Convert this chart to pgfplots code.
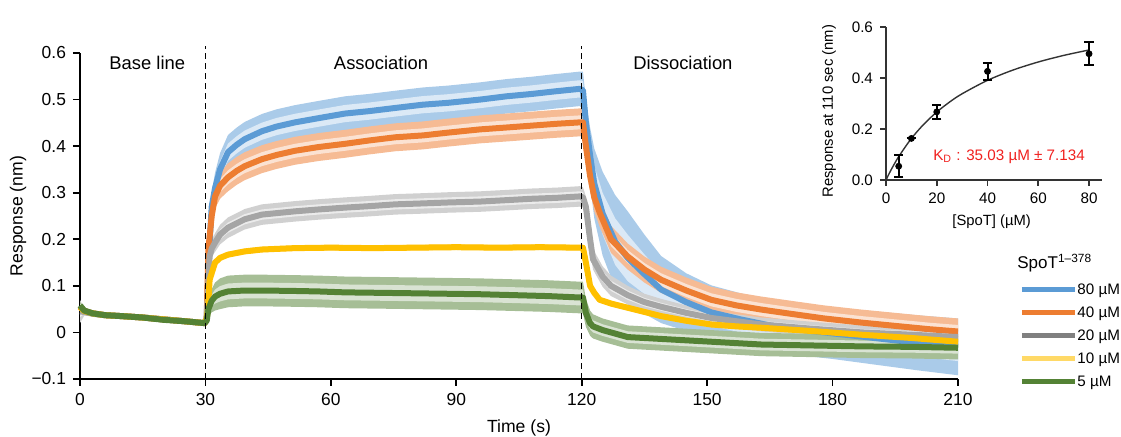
\documentclass[border=0pt]{standalone}
\usepackage{fontspec}
\setmainfont{Liberation Sans}
\usepackage{pgfplots}
\usepackage{pgfplotstable}
\pgfplotsset{compat=1.18}
\usepgfplotslibrary{fillbetween}
\definecolor{cB}{HTML}{5B9BD5}
\definecolor{cO}{HTML}{ED7D31}
\definecolor{cG}{HTML}{A5A5A5}
\definecolor{cY}{HTML}{FFC000}
\definecolor{cV}{HTML}{548235}
\definecolor{cGl}{HTML}{808080}
\definecolor{cYl}{HTML}{FFD966}
\definecolor{kdred}{HTML}{F0201E}

\pgfplotstableread{
t m w
0 0.055 0.008
1 0.046 0.006
3 0.041 0.005
6 0.037 0.005
10 0.035 0.005
15 0.032 0.005
20 0.028 0.005
25 0.024 0.005
29.8 0.020 0.005
30.3 0.030 0.005
30.8 0.160 0.020
31.5 0.270 0.030
32.3 0.310 0.033
33.5 0.350 0.035
35.4 0.387 0.037
37.5 0.403 0.037
39.4 0.415 0.037
43.5 0.432 0.037
47 0.442 0.037
51.4 0.451 0.037
57 0.460 0.037
63.4 0.470 0.037
69 0.475 0.037
75.4 0.482 0.037
82 0.489 0.037
88 0.493 0.037
95.7 0.500 0.037
102 0.507 0.037
108 0.512 0.037
114 0.518 0.037
119.5 0.523 0.037
120.3 0.520 0.040
121 0.450 0.050
122 0.380 0.060
123 0.320 0.075
125 0.255 0.090
128 0.195 0.100
131 0.160 0.100
135 0.125 0.085
139 0.092 0.072
145 0.065 0.062
151 0.043 0.058
158 0.028 0.056
165 0.015 0.055
172 0.006 0.055
180 -0.002 0.055
190 -0.012 0.057
200 -0.022 0.059
210 -0.031 0.061
}\tblB

\pgfplotstableread{
t m w
0 0.055 0.008
1 0.046 0.006
3 0.041 0.005
6 0.037 0.005
10 0.035 0.005
15 0.032 0.005
20 0.028 0.005
25 0.024 0.005
29.8 0.020 0.005
30.3 0.030 0.005
30.7 0.178 0.015
31.5 0.250 0.022
32.3 0.292 0.026
33.5 0.315 0.028
35.4 0.333 0.030
37.5 0.347 0.030
39.4 0.357 0.030
43.5 0.372 0.030
47 0.381 0.030
51.4 0.390 0.030
57 0.398 0.030
63.4 0.405 0.030
69 0.412 0.030
75.4 0.419 0.030
82 0.423 0.030
88 0.429 0.030
95.7 0.436 0.030
102 0.440 0.030
108 0.444 0.030
114 0.448 0.030
119.5 0.451 0.030
120.3 0.451 0.030
121 0.400 0.030
122 0.336 0.030
123 0.290 0.030
124.3 0.257 0.030
127 0.200 0.029
131 0.163 0.028
135 0.135 0.028
139 0.113 0.028
145 0.090 0.028
151 0.070 0.028
157 0.058 0.028
163 0.049 0.028
170 0.040 0.028
178 0.030 0.028
187 0.021 0.028
195 0.014 0.028
203 0.007 0.028
210 0.002 0.028
}\tblO

\pgfplotstableread{
t m w
0 0.045 0.025
1 0.044 0.008
3 0.040 0.005
6 0.037 0.005
10 0.035 0.005
15 0.032 0.005
20 0.028 0.005
25 0.024 0.005
29.8 0.020 0.005
30.3 0.030 0.005
31 0.163 0.015
31.5 0.180 0.018
32.3 0.193 0.020
33.5 0.210 0.021
35.4 0.225 0.022
39.4 0.243 0.022
43.5 0.253 0.022
51.4 0.260 0.022
57 0.264 0.022
63.4 0.268 0.022
69 0.271 0.022
75.4 0.275 0.022
82 0.277 0.022
88 0.279 0.022
95.7 0.281 0.022
102 0.284 0.022
108 0.287 0.022
114 0.289 0.022
119.5 0.292 0.022
120.3 0.290 0.022
121 0.270 0.022
122 0.200 0.022
122.7 0.157 0.022
125 0.120 0.022
127 0.100 0.022
131 0.080 0.020
135 0.065 0.018
139 0.055 0.017
145 0.042 0.016
151 0.031 0.015
163 0.017 0.015
175 0.008 0.015
187 0.000 0.015
199 -0.005 0.015
210 -0.010 0.015
}\tblG

\pgfplotstableread{
t m w
0 0.055 0.008
1 0.046 0.006
3 0.041 0.005
6 0.037 0.005
10 0.035 0.005
15 0.032 0.005
20 0.028 0.005
25 0.024 0.005
29.8 0.020 0.005
30.3 0.030 0.004
30.6 0.050 0.005
31 0.113 0.006
32.3 0.150 0.006
33.5 0.160 0.006
35.4 0.167 0.006
39.4 0.174 0.006
43.5 0.178 0.006
51.4 0.181 0.006
60 0.182 0.006
70 0.181 0.006
80 0.182 0.006
90 0.183 0.006
100 0.182 0.006
110 0.183 0.006
119.5 0.182 0.006
120.3 0.182 0.006
121 0.150 0.006
122 0.100 0.006
123 0.085 0.006
124.3 0.070 0.006
127 0.062 0.006
131 0.053 0.006
135 0.044 0.006
139 0.035 0.006
145 0.025 0.006
151 0.017 0.006
157 0.013 0.006
163 0.010 0.006
175 0.003 0.006
187 -0.005 0.006
199 -0.012 0.006
210 -0.020 0.006
}\tblY

\pgfplotstableread{
t m w
0 0.058 0.008
1 0.047 0.006
3 0.041 0.005
6 0.037 0.005
10 0.035 0.005
15 0.032 0.005
20 0.027 0.005
25 0.024 0.005
29.8 0.020 0.005
30.3 0.025 0.004
30.7 0.050 0.015
31.5 0.068 0.025
32.3 0.077 0.030
33.5 0.083 0.033
35.4 0.088 0.034
39.4 0.090 0.034
43.5 0.090 0.034
51.4 0.089 0.034
57 0.088 0.034
63.4 0.086 0.034
71.8 0.085 0.034
80 0.084 0.034
88 0.083 0.034
95.7 0.082 0.034
104 0.080 0.034
112 0.078 0.034
119.5 0.075 0.034
120.3 0.075 0.034
121 0.042 0.030
122 0.020 0.027
122.7 0.013 0.026
125 0.005 0.025
131 -0.010 0.025
139 -0.014 0.025
151 -0.020 0.025
163 -0.026 0.025
175 -0.028 0.025
187 -0.030 0.025
199 -0.031 0.025
210 -0.033 0.025
}\tblV

\pgfplotstableread{
x y e
5 0.054 0.044
10 0.163 0
20 0.267 0.028
40 0.426 0.033
80 0.495 0.045
}\tblKD

\pgfplotstableread{
x y
0 0
2 0.0396
5 0.0916
10 0.1628
15 0.2198
20 0.2664
25 0.3053
30 0.3382
40 0.3908
50 0.4310
60 0.4628
70 0.4885
80 0.5098
}\tblFit

\newcommand{\series}[2]{%
  \addplot[draw=none, forget plot, name path=#2H] table[x=t, y expr=\thisrow{m}+\thisrow{w}] {#1};
  \addplot[draw=none, forget plot, name path=#2L] table[x=t, y expr=\thisrow{m}-\thisrow{w}] {#1};
  \addplot[draw=none, forget plot, name path=#2h] table[x=t, y expr=\thisrow{m}+0.5*\thisrow{w}] {#1};
  \addplot[draw=none, forget plot, name path=#2l] table[x=t, y expr=\thisrow{m}-0.5*\thisrow{w}] {#1};
  \addplot[fill=#2!52, draw=none, forget plot] fill between[of=#2H and #2L];
  \addplot[fill=#2!22, draw=none, forget plot] fill between[of=#2h and #2l];
  \addplot[#2, line width=3pt, line join=round, forget plot] table[x=t, y=m] {#1};
}

\begin{document}
\begin{tikzpicture}
\begin{axis}[
  at={(0pt,0pt)}, anchor=south west,
  scale only axis, width=439pt, height=163pt,
  xmin=0, xmax=210, ymin=-0.1, ymax=0.6,
  axis lines=left, axis line style={-, line width=1pt},
  tick align=outside, major tick length=3.5pt,
  tick style={black, line width=0.8pt},
  xtick={0,30,60,90,120,150,180,210},
  ytick={-0.1,0,0.1,0.2,0.3,0.4,0.5,0.6},
  yticklabels={−0.1,0,0.1,0.2,0.3,0.4,0.5,0.6},
  /pgf/number format/assume math mode=true,
  ticklabel style={font=\fontsize{8.7}{10}\selectfont},
  xlabel={Time (s)}, ylabel={Response (nm)},
  label style={font=\fontsize{8.8}{10}\selectfont},
  xlabel style={at={(axis description cs:0.5,-0.150)}, anchor=center},
  ylabel style={at={(axis description cs:-0.0706,0.5)}, anchor=center},
  clip=false,
  legend style={at={(axis description cs:1.0695,0.298)}, anchor=north west,
    draw=none, fill=none, inner sep=0pt, row sep=4pt,
    font=\fontsize{7.6}{9}\selectfont,
    nodes={inner sep=0pt, text height=6pt, text depth=1.5pt}},
  legend cell align=left,
  legend image code/.code={\draw[#1] (0pt,0pt) -- (23.5pt,0pt); \path (23.5pt,0pt) -- (26.5pt,0pt);},
]
\series{\tblB}{cB}
\series{\tblO}{cO}
\series{\tblG}{cG}
\series{\tblY}{cY}
\series{\tblV}{cV}
\addplot[black, densely dashed, line width=0.6pt, forget plot] coordinates {(30,-0.1) (30,0.615)};
\addplot[black, densely dashed, line width=0.6pt, forget plot] coordinates {(120,-0.1) (120,0.615)};
\node[font=\fontsize{9.2}{10}\selectfont, inner sep=0pt] at (axis cs:16.1,0.579) {Base line};
\node[font=\fontsize{9.2}{10}\selectfont, inner sep=0pt] at (axis cs:72,0.579) {Association};
\node[font=\fontsize{9.2}{10}\selectfont, inner sep=0pt] at (axis cs:144.2,0.579) {Dissociation};
\node[font=\fontsize{8.5}{10}\selectfont, anchor=base west, inner sep=0pt] at (axis description cs:1.0672,0.340) {SpoT\textsuperscript{1–378}};
\addlegendimage{cB, line width=2.5pt}\addlegendentry{80 µM}
\addlegendimage{cO, line width=2.5pt}\addlegendentry{40 µM}
\addlegendimage{cGl, line width=2.5pt}\addlegendentry{20 µM}
\addlegendimage{cYl, line width=2.5pt}\addlegendentry{10 µM}
\addlegendimage{cV, line width=2.5pt}\addlegendentry{5 µM}
\end{axis}

\begin{axis}[
  at={(403pt,99.5pt)}, anchor=south west,
  scale only axis, width=108pt, height=76.5pt,
  xmin=0, xmax=85.1, ymin=0, ymax=0.6,
  axis lines=left, axis line style={-, line width=0.9pt, black!80},
  tick align=outside, major tick length=3pt,
  tick style={black!80, line width=0.8pt},
  xtick={0,20,40,60,80},
  ytick={0,0.2,0.4,0.6},
  yticklabels={0.0,0.2,0.4,0.6},
  /pgf/number format/assume math mode=true,
  ticklabel style={font=\fontsize{7.6}{9}\selectfont},
  xlabel={[SpoT] (µM)}, ylabel={Response at 110 sec (nm)},
  label style={font=\fontsize{7.4}{9}\selectfont},
  xlabel style={at={(axis description cs:0.489,-0.272)}, anchor=center},
  ylabel style={at={(axis description cs:-0.264,0.45)}, anchor=center},
  clip=false,
]
\addplot[black!80, line width=0.7pt, smooth] table[x=x, y=y] {\tblFit};
\addplot[black, only marks, mark=*, mark size=1.5pt,
  error bars/.cd, y dir=both, y explicit,
  error bar style={line width=1pt, black},
  error mark options={black, line width=1pt, mark size=2.3pt, rotate=90}]
  table[x=x, y=y, y error=e] {\tblKD};
\node[anchor=west, inner sep=0pt, text=kdred, font=\fontsize{7.6}{9}\selectfont] at (axis cs:18.5,0.092) {K\textsubscript{D} : 35.03 µM ± 7.134};
\end{axis}
\pgfresetboundingbox
\path[use as bounding box] (-40pt,-29pt) rectangle (520.5pt,189.5pt);
\end{tikzpicture}
\end{document}
